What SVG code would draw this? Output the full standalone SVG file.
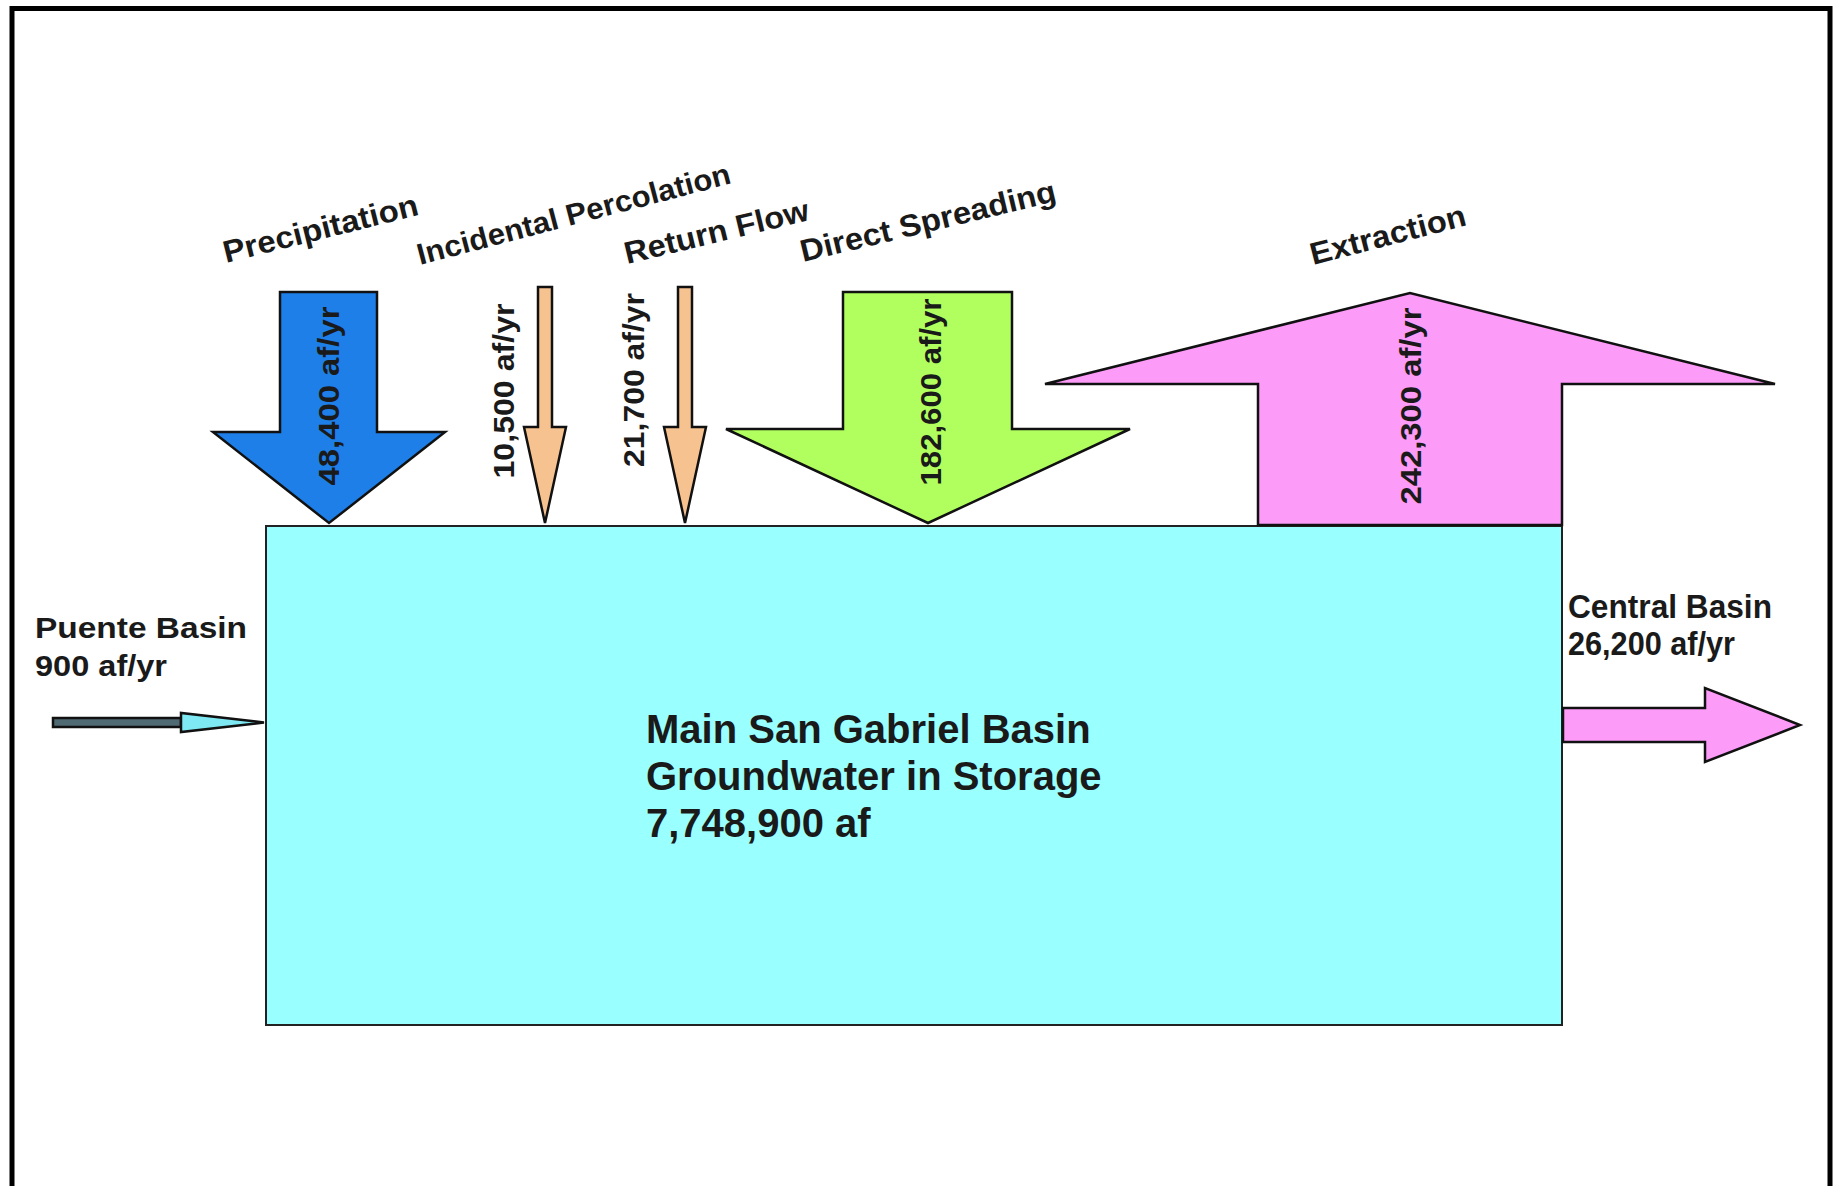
<svg xmlns="http://www.w3.org/2000/svg" width="1835" height="1186" viewBox="0 0 1835 1186">
<style>
.t{font-family:"Liberation Sans",Arial,Helvetica,sans-serif;font-weight:bold;fill:#1a1a1a;}
.s{stroke:#111;stroke-width:2.5;stroke-linejoin:miter;}
</style>
<rect x="0" y="0" width="1835" height="1186" fill="#ffffff"/>
<path d="M12 1186 V8.5 H1830 V1186" fill="none" stroke="#000" stroke-width="5"/>

<g id="storage-basin">
<rect x="266" y="526" width="1296" height="499" fill="#99FFFF" stroke="#222" stroke-width="2"/>
<text class="t" font-size="40" fill="#000"><tspan x="646" y="743">Main San Gabriel Basin</tspan><tspan x="646" y="790">Groundwater in Storage</tspan><tspan x="646" y="837">7,748,900 af</tspan></text>
</g>

<g id="labels">
<g id="label-precipitation"><text class="t" font-size="31" transform="translate(226,263) rotate(-14)" textLength="200" lengthAdjust="spacingAndGlyphs">Precipitation</text></g>
<g id="label-incidental"><text class="t" font-size="30" transform="translate(420,265) rotate(-14.7)" textLength="323" lengthAdjust="spacingAndGlyphs">Incidental Percolation</text></g>
<g id="label-return"><text class="t" font-size="31" transform="translate(627,264) rotate(-13.5)" textLength="189" lengthAdjust="spacingAndGlyphs">Return Flow</text></g>
<g id="label-spreading"><text class="t" font-size="31" transform="translate(803,262) rotate(-13.5)" textLength="262" lengthAdjust="spacingAndGlyphs">Direct Spreading</text></g>
<g id="label-extraction"><text class="t" font-size="31" transform="translate(1313,265) rotate(-14.5)" textLength="160" lengthAdjust="spacingAndGlyphs">Extraction</text></g>
<g id="label-puente"><text class="t" font-size="30"><tspan x="35" y="638" textLength="212" lengthAdjust="spacingAndGlyphs">Puente Basin</tspan><tspan x="35" y="676" textLength="132" lengthAdjust="spacingAndGlyphs">900 af/yr</tspan></text></g>
<g id="label-central"><text class="t" font-size="34" fill="#000"><tspan x="1568" y="618" textLength="204" lengthAdjust="spacingAndGlyphs">Central Basin</tspan><tspan x="1568" y="655" textLength="167" lengthAdjust="spacingAndGlyphs">26,200 af/yr</tspan></text></g>
</g>

<g id="connectors">
<g id="flow-precipitation">
<polygon class="s" points="280,292 377,292 377,432 445,432 329,523 213,432 280,432" fill="#1E7FE8"/>
<text class="t" font-size="30" fill="#ffffff" text-anchor="middle" transform="translate(339,396) rotate(-90)" textLength="179" lengthAdjust="spacingAndGlyphs">48,400 af/yr</text>
</g>
<g id="flow-incidental">
<polygon class="s" points="538,287 552,287 552,427 566,427 545,523 524,427 538,427" fill="#F6C28F"/>
<text class="t" font-size="30" fill="#000" text-anchor="middle" transform="translate(514,391) rotate(-90)" textLength="175" lengthAdjust="spacingAndGlyphs">10,500 af/yr</text>
</g>
<g id="flow-return">
<polygon class="s" points="678,287 692,287 692,427 706,427 685,523 664,427 678,427" fill="#F6C28F"/>
<text class="t" font-size="30" fill="#000" text-anchor="middle" transform="translate(644,380) rotate(-90)" textLength="174" lengthAdjust="spacingAndGlyphs">21,700 af/yr</text>
</g>
<g id="flow-spreading">
<polygon class="s" points="843,292 1012,292 1012,429 1130,429 928,523 726,429 843,429" fill="#B0FF5E"/>
<text class="t" font-size="30" fill="#000" text-anchor="middle" transform="translate(941,392) rotate(-90)" textLength="187" lengthAdjust="spacingAndGlyphs">182,600 af/yr</text>
</g>
<g id="flow-extraction">
<polygon class="s" points="1258,525 1258,384 1045,384 1410,293 1775,384 1562,384 1562,525" fill="#FC9BF8"/>
<text class="t" font-size="30" fill="#2a1f2a" text-anchor="middle" transform="translate(1421,406) rotate(-90)" textLength="197" lengthAdjust="spacingAndGlyphs">242,300 af/yr</text>
</g>
<g id="flow-puente">
<rect class="s" x="53" y="718" width="128" height="9" fill="#506A74" stroke-width="2"/>
<polygon class="s" points="181,713 181,732 264,722.5" fill="#7EE9F2" stroke-width="2"/>
</g>
<g id="flow-central">
<polygon class="s" points="1563,708 1705,708 1705,688 1800,725 1705,762 1705,742 1563,742" fill="#FC9BF8"/>
</g>
</g>
</svg>
